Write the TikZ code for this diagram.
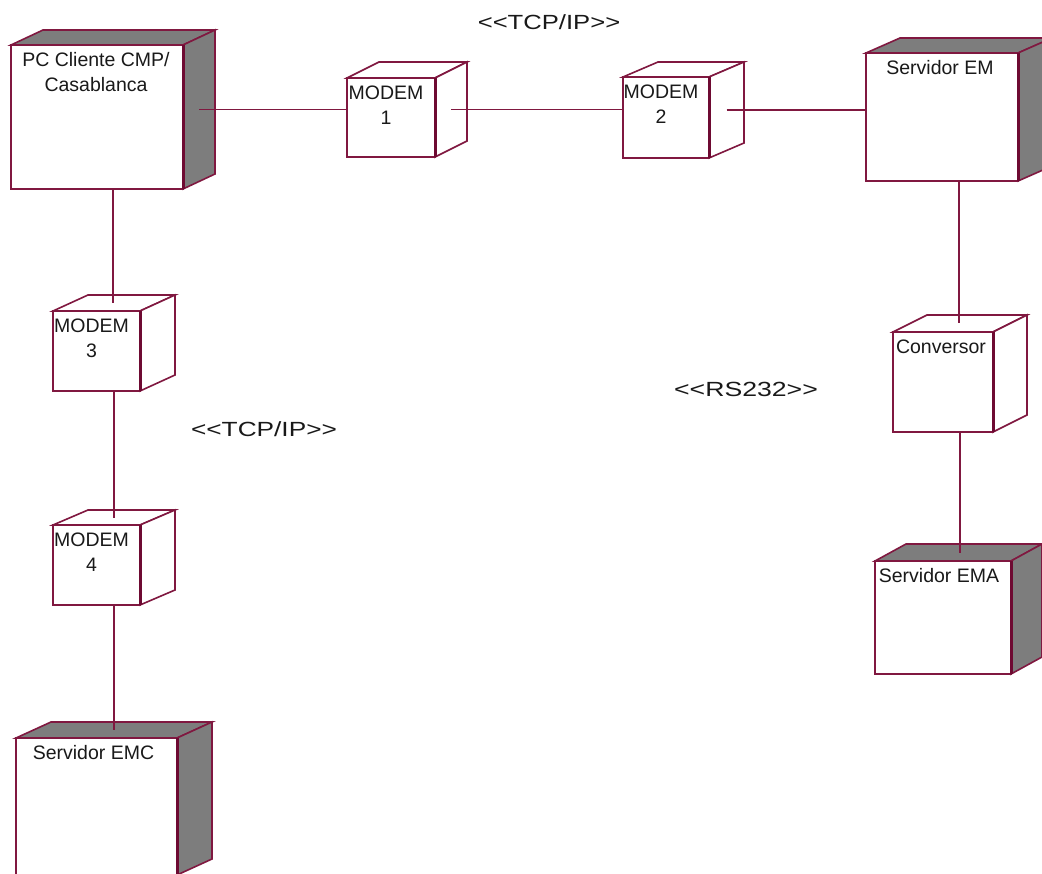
\documentclass[tikz,border=0pt]{standalone}
\usepackage{graphicx}
\usepackage{fontspec}
\setmainfont{Liberation Sans}
\usetikzlibrary{calc}
\definecolor{edgecol}{RGB}{128,24,64}
\definecolor{edgedark}{RGB}{110,10,50}
\definecolor{facegrey}{RGB}{125,125,125}
\tikzset{
  front/.style={draw=edgecol, line width=1.6pt, fill=white, rectangle, inner sep=0pt, outer sep=0pt},
  cubeface/.style={draw=edgecol, line width=1.6pt, line join=miter},
  frontedge/.style={draw=edgedark, line width=3pt},
  conn/.style={draw=edgecol, line width=1.6pt},
  nodelbl/.style={anchor=north, inner sep=0pt, align=center, text=black!90, font=\fontsize{19.5}{25}\selectfont},
  stereo/.style={anchor=base, inner sep=0pt, text=black!90, font=\fontsize{20.5}{25}\selectfont},
}
% #1 name, #2 x1, #3 y1, #4 x2, #5 y2, #6 dx, #7 dy, #8 face fill
\newcommand{\umlcube}[8]{%
  \node[front, minimum width={(#4-#2)*1pt}, minimum height={(#5-#3)*1pt}] (#1) at ({(#2+#4)/2},{(#3+#5)/2}) {};
  \draw[cubeface, fill=#8] (#1.north west) -- ++(#6,-#7) -- ++({#4-#2},0) -- (#1.north east) -- cycle;
  \draw[cubeface, fill=#8] (#1.north east) -- ++(#6,-#7) -- ++(0,{#5-#3}) -- (#1.south east) -- cycle;
  \draw[frontedge] (#1.north east) -- (#1.south east);
  \coordinate (#1-r) at ($(#1.east)+(#6/2,-#7/2)$);
  \coordinate (#1-t) at ($(#1.north)+(#6/2,-#7/2)$);
  \coordinate (#1-b) at ($(#1.south)+(#6/2,0)$);
}
\begin{document}
\begin{tikzpicture}[x=1pt,y=-1pt]
  \fill[white] (0,0) rectangle (1042,874);
  \useasboundingbox (0,0) rectangle (1042,874);

  \umlcube{pc}{11}{45}{183}{189}{32}{15}{facegrey}
  \umlcube{m1}{347}{78}{435}{157}{32}{16}{white}
  \umlcube{m2}{623}{77}{709}{158}{35}{15}{white}
  \umlcube{em}{866}{53}{1018}{181}{34}{15}{facegrey}
  \umlcube{m3}{53}{311}{140}{391}{35}{16}{white}
  \umlcube{m4}{53}{525}{140}{605}{35}{15}{white}
  \umlcube{conv}{893}{332}{993}{432}{34}{17}{white}
  \umlcube{ema}{875}{561}{1011}{674}{31}{17}{facegrey}
  \umlcube{emc}{16}{738}{177}{875}{35}{16}{facegrey}

  \draw[conn] (pc-r) -- (pc-r -| m1.west);
  \draw[conn] (m1-r) -- (m1-r -| m2.west);
  \draw[conn] (m2-r) -- (m2-r -| em.west);
  \draw[conn] (pc-b) -- (pc-b |- m3-t);
  \draw[conn] (m3-b) -- (m3-b |- m4-t);
  \draw[conn] (m4-b) -- (m4-b |- emc-t);
  \draw[conn] (em-b) -- (em-b |- conv-t);
  \draw[conn] (conv-b) -- (conv-b |- ema-t);

  \node[nodelbl] (pcl) at ([xshift=-1pt,yshift=-7.5pt]pc.north) {PC Cliente CMP/\\Casablanca};
  \node[nodelbl] (m1l) at ([xshift=-5pt,yshift=-7.5pt]m1.north) {MODEM\\1};
  \node[nodelbl] (m2l) at ([xshift=-5pt,yshift=-7.5pt]m2.north) {MODEM\\2};
  \node[nodelbl] (m3l) at ([xshift=-5pt,yshift=-7.5pt]m3.north) {MODEM\\3};
  \node[nodelbl] (m4l) at ([xshift=-5pt,yshift=-7.5pt]m4.north) {MODEM\\4};
  \node[nodelbl] (eml) at ([xshift=-2pt,yshift=-7.5pt]em.north) {Servidor EM};
  \node[nodelbl] (convl) at ([xshift=-2pt,yshift=-7.5pt]conv.north) {Conversor};
  \node[nodelbl] (emal) at ([xshift=-4pt,yshift=-7.5pt]ema.north) {Servidor EMA};
  \node[nodelbl] (emcl) at ([xshift=-3pt,yshift=-7.5pt]emc.north) {Servidor EMC};

  \node[stereo] (tcp1) at (549,30) {\scalebox{1.25}[1]{<{}<TCP/IP>{}>}};
  \node[stereo] (tcp2) at (264,437) {\scalebox{1.28}[1]{<{}<TCP/IP>{}>}};
  \node[stereo] (rs) at (746,397) {\scalebox{1.3}[1]{<{}<RS232>{}>}};
\end{tikzpicture}
\end{document}
